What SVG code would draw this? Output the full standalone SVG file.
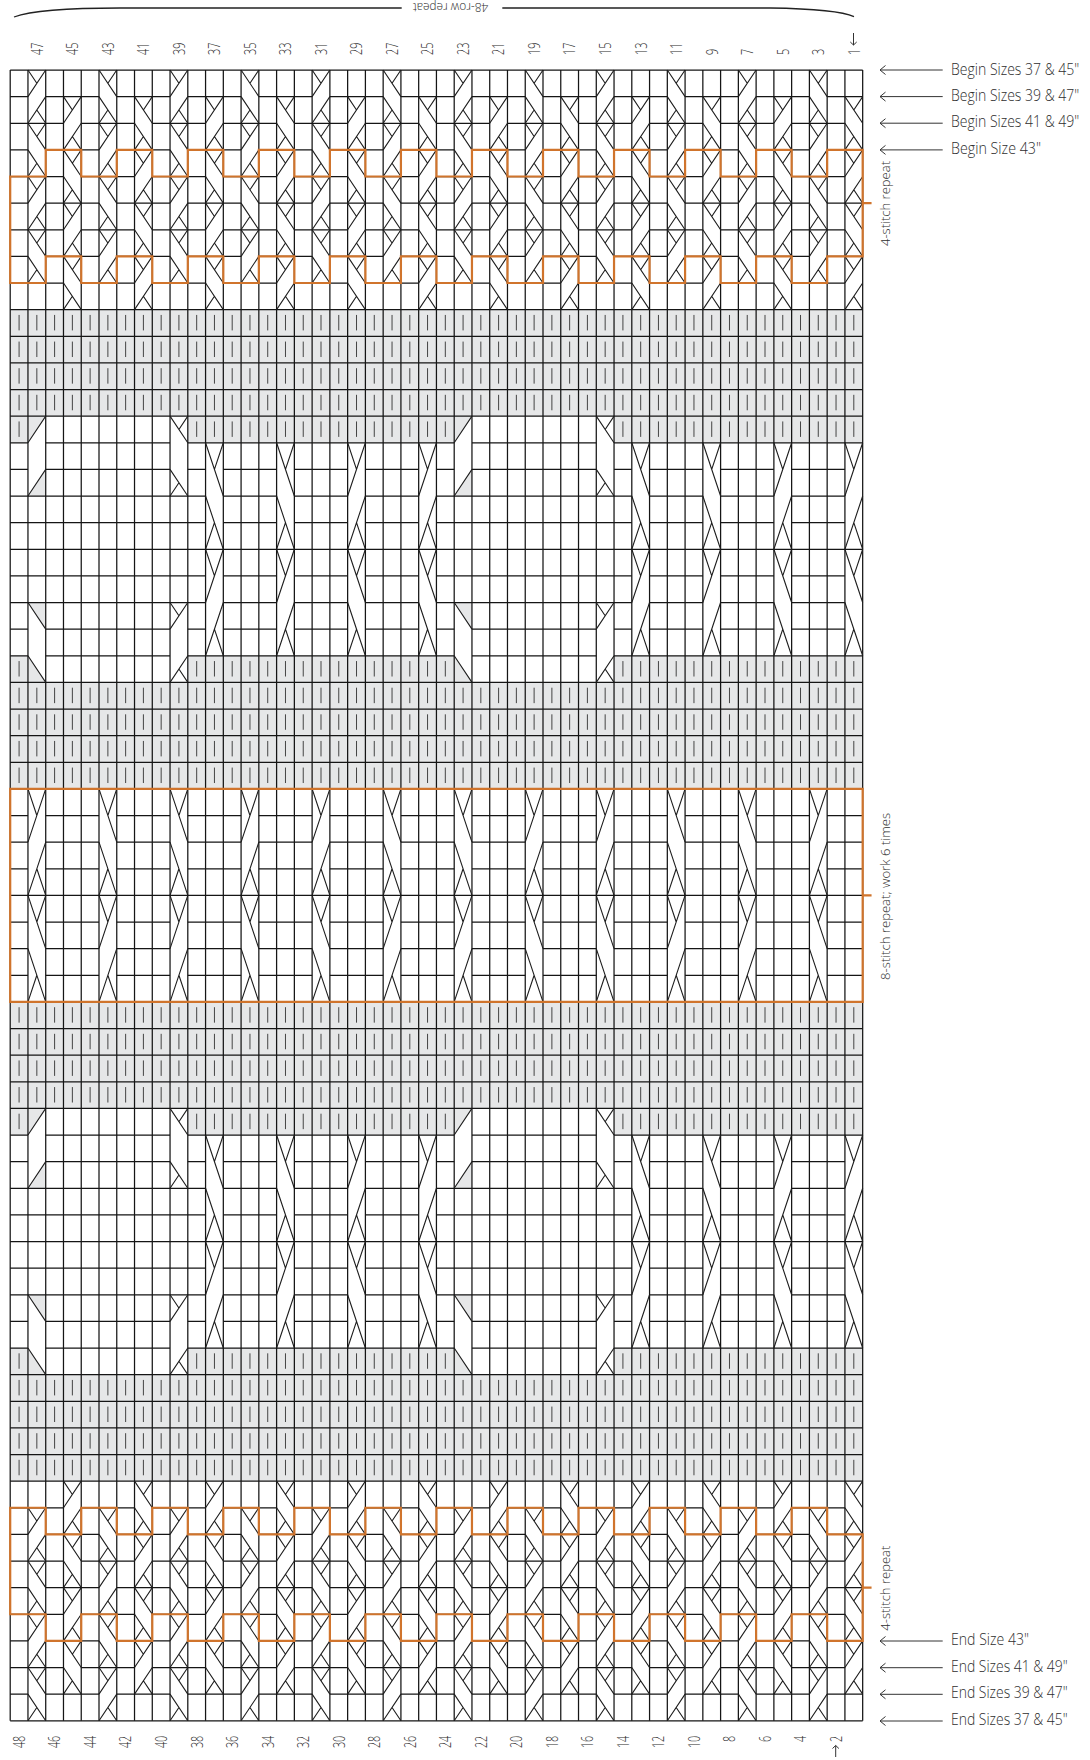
<svg xmlns="http://www.w3.org/2000/svg" width="1090" height="1760" viewBox="0 0 1090 1760">
<style>
path{vector-effect:non-scaling-stroke}
.ln{fill:none;stroke:#151515;stroke-width:1.25}
.cb{fill:none;stroke:#1d1d1d;stroke-width:1.1}
.br{fill:none;stroke:#444;stroke-width:1}
.gy{fill:#e6e7e8;stroke:none}
.or{fill:none;stroke:#d0742c;stroke-width:2.2}
.t{font-family:"Open Sans","Liberation Sans",sans-serif;font-weight:300;fill:#2e2e2e}
.n{font-size:16px}
.l{font-size:16.5px}
.v{font-size:13.5px}
.ar{stroke:#333;stroke-width:1;fill:none}
</style>
<defs>
<marker id="ah" markerUnits="userSpaceOnUse" markerWidth="14" markerHeight="14" refX="8" refY="7" orient="auto"><path d="M2.5 2.5L8 7L2.5 11.5" fill="none" stroke="#333" stroke-width="1"/></marker>
<marker id="as" markerUnits="userSpaceOnUse" markerWidth="10" markerHeight="10" refX="6" refY="5" orient="auto"><path d="M3 1.8L6 5L3 8.2" fill="none" stroke="#333" stroke-width="1"/></marker>
<path id="hf" class="ln" d="M0 0H48"/>
<path id="h1" class="ln" d="M0 0H1M2 0H5M6 0H9M10 0H13M14 0H17M18 0H21M22 0H25M26 0H29M30 0H33M34 0H37M38 0H41M42 0H45M46 0H48"/>
<path id="h3" class="ln" d="M0 0H3M4 0H7M8 0H11M12 0H15M16 0H19M20 0H23M24 0H27M28 0H31M32 0H35M36 0H39M40 0H43M44 0H47"/>
<path id="hX" class="ln" d="M0 0H11M12 0H15M16 0H19M20 0H23M24 0H35M36 0H39M40 0H43M44 0H47"/>
<path id="hW" class="ln" d="M0 0H1M2 0H9M10 0H25M26 0H33M34 0H48"/>
<path id="hWX" class="ln" d="M0 0H1M2 0H9M10 0H11M12 0H15M16 0H19M20 0H23M24 0H25M26 0H33M34 0H35M36 0H39M40 0H43M44 0H47"/>
<path id="bars" class="br" d="M.5 .2V.78M1.5 .2V.78M2.5 .2V.78M3.5 .2V.78M4.5 .2V.78M5.5 .2V.78M6.5 .2V.78M7.5 .2V.78M8.5 .2V.78M9.5 .2V.78M10.5 .2V.78M11.5 .2V.78M12.5 .2V.78M13.5 .2V.78M14.5 .2V.78M15.5 .2V.78M16.5 .2V.78M17.5 .2V.78M18.5 .2V.78M19.5 .2V.78M20.5 .2V.78M21.5 .2V.78M22.5 .2V.78M23.5 .2V.78M24.5 .2V.78M25.5 .2V.78M26.5 .2V.78M27.5 .2V.78M28.5 .2V.78M29.5 .2V.78M30.5 .2V.78M31.5 .2V.78M32.5 .2V.78M33.5 .2V.78M34.5 .2V.78M35.5 .2V.78M36.5 .2V.78M37.5 .2V.78M38.5 .2V.78M39.5 .2V.78M40.5 .2V.78M41.5 .2V.78M42.5 .2V.78M43.5 .2V.78M44.5 .2V.78M45.5 .2V.78M46.5 .2V.78M47.5 .2V.78"/>
<path id="barsP" class="br" d="M.5 .2V.78M10.5 .2V.78M11.5 .2V.78M12.5 .2V.78M13.5 .2V.78M14.5 .2V.78M15.5 .2V.78M16.5 .2V.78M17.5 .2V.78M18.5 .2V.78M19.5 .2V.78M20.5 .2V.78M21.5 .2V.78M22.5 .2V.78M23.5 .2V.78M24.5 .2V.78M34.5 .2V.78M35.5 .2V.78M36.5 .2V.78M37.5 .2V.78M38.5 .2V.78M39.5 .2V.78M40.5 .2V.78M41.5 .2V.78M42.5 .2V.78M43.5 .2V.78M44.5 .2V.78M45.5 .2V.78M46.5 .2V.78M47.5 .2V.78"/>
<path id="seqA" class="cb" d="M1 0L0 1M0 0L.5 .5M1 1L0 2M.5 1.5L1 2M0 2L1 3M1 2L.5 2.5M0 3L1 4M.5 3.5L0 4M1 4L0 5M0 4L.5 4.5M1 5L0 6M.5 5.5L1 6M0 6L1 7M1 6L.5 6.5M0 7L1 8M.5 7.5L0 8"/>
<path id="seqC" class="cb" d="M0 0L1 1M1 0L.5 .5M0 1L1 2M.5 1.5L0 2M1 2L0 3M0 2L.5 2.5M1 3L0 4M.5 3.5L1 4M0 4L1 5M1 4L.5 4.5M0 5L1 6M.5 5.5L0 6M1 6L0 7M0 6L.5 6.5M1 7L0 8M.5 7.5L1 8"/>
<path id="cabA" class="cb" d="M1 0L0 2M0 0L.5 1M1 2L0 4M.5 3L1 4M0 4L1 6M1 4L.5 5M0 6L1 8M.5 7L0 8"/>
<path id="cabC" class="cb" d="M0 0L1 2M1 0L.5 1M0 2L1 4M.5 3L0 4M1 4L0 6M0 4L.5 5M1 6L0 8M.5 7L1 8"/>
<g id="c1"><use href="#seqA" x="1"/><use href="#seqA" x="9"/><use href="#seqA" x="17"/><use href="#seqA" x="25"/><use href="#seqA" x="33"/><use href="#seqA" x="41"/></g>
<g id="c3"><use href="#seqA" x="3"/><use href="#seqA" x="11"/><use href="#seqA" x="19"/><use href="#seqA" x="27"/><use href="#seqA" x="35"/><use href="#seqA" x="43"/></g>
<g id="c5"><use href="#seqC" x="5"/><use href="#seqC" x="13"/><use href="#seqC" x="21"/><use href="#seqC" x="29"/><use href="#seqC" x="37"/><use href="#seqC" x="45"/></g>
<g id="c7"><use href="#seqC" x="7"/><use href="#seqC" x="15"/><use href="#seqC" x="23"/><use href="#seqC" x="31"/><use href="#seqC" x="39"/><use href="#seqC" x="47"/></g>
<g id="secG" class="gy">
<rect x="0" y="13" width="1" height="1"/><rect x="10" y="13" width="15" height="1"/><rect x="34" y="13" width="14" height="1"/>
<rect x="0" y="22" width="1" height="1"/><rect x="10" y="22" width="15" height="1"/><rect x="34" y="22" width="14" height="1"/>
<path d="M2 13L1 14V13ZM2 15V16H1ZM1 20H2V21ZM1 22L2 23H1ZM26 13L25 14V13ZM26 15V16H25ZM25 20H26V21ZM25 22L26 23H25Z"/>
</g>
<g id="secL">
<path class="cb" d="M2 13L1 14M2 15L1 16M1 20L2 21M1 22L2 23M26 13L25 14M26 15L25 16M25 20L26 21M25 22L26 23"/>
<path class="cb" id="cross" d="M9 13L10 14M10 13L9.5 13.5M9 15L10 16M9.5 15.5L9 16M10 20L9 21M9 20L9.5 20.5M10 22L9 23M9.5 22.5L10 23"/>
<use href="#cross" x="24"/>
<use href="#cabC" x="11" y="14"/><use href="#cabC" x="15" y="14"/><use href="#cabA" x="19" y="14"/><use href="#cabA" x="23" y="14"/>
<use href="#cabC" x="35" y="14"/><use href="#cabC" x="39" y="14"/><use href="#cabA" x="43" y="14"/><use href="#cabA" x="47" y="14"/>
</g>
</defs>
<g id="chart" transform="translate(10.2 70) scale(17.76 26.625)">
<g id="shading" class="gy">
<rect x="0" y="9" width="48" height="4"/><rect x="0" y="23" width="48" height="4"/><rect x="0" y="35" width="48" height="4"/><rect x="0" y="49" width="48" height="4"/>
<use href="#secG"/><use href="#secG" y="26"/>
</g>
<g id="purl-bars">
<use href="#bars" y="9"/><use href="#bars" y="10"/><use href="#bars" y="11"/><use href="#bars" y="12"/><use href="#barsP" y="13"/>
<use href="#barsP" y="22"/><use href="#bars" y="23"/><use href="#bars" y="24"/><use href="#bars" y="25"/><use href="#bars" y="26"/>
<use href="#bars" y="35"/><use href="#bars" y="36"/><use href="#bars" y="37"/><use href="#bars" y="38"/><use href="#barsP" y="39"/>
<use href="#barsP" y="48"/><use href="#bars" y="49"/><use href="#bars" y="50"/><use href="#bars" y="51"/><use href="#bars" y="52"/>
</g>
<g id="grid">
<path class="ln" d="M0 0V62M1 0V62M2 0V62M3 0V62M4 0V62M5 0V62M6 0V62M7 0V62M8 0V62M9 0V62M10 0V62M11 0V62M12 0V62M13 0V62M14 0V62M15 0V62M16 0V62M17 0V62M18 0V62M19 0V62M20 0V62M21 0V62M22 0V62M23 0V62M24 0V62M25 0V62M26 0V62M27 0V62M28 0V62M29 0V62M30 0V62M31 0V62M32 0V62M33 0V62M34 0V62M35 0V62M36 0V62M37 0V62M38 0V62M39 0V62M40 0V62M41 0V62M42 0V62M43 0V62M44 0V62M45 0V62M46 0V62M47 0V62M48 0V62"/>
<use href="#hf" y="0"/><use href="#h1" y="1"/><use href="#h3" y="2"/><use href="#h1" y="3"/><use href="#h3" y="4"/><use href="#h1" y="5"/><use href="#h3" y="6"/><use href="#h1" y="7"/><use href="#h3" y="8"/>
<use href="#hf" y="9"/><use href="#hf" y="10"/><use href="#hf" y="11"/><use href="#hf" y="12"/><use href="#hf" y="13"/>
<use href="#hW" y="14"/><use href="#hWX" y="15"/><use href="#hX" y="16"/><use href="#hX" y="17"/><use href="#hf" y="18"/><use href="#hX" y="19"/><use href="#hX" y="20"/><use href="#hWX" y="21"/><use href="#hW" y="22"/>
<use href="#hf" y="23"/><use href="#hf" y="24"/><use href="#hf" y="25"/><use href="#hf" y="26"/><use href="#hf" y="27"/>
<use href="#h1" y="28"/><use href="#h1" y="29"/><use href="#h1" y="30"/><use href="#hf" y="31"/><use href="#h1" y="32"/><use href="#h1" y="33"/><use href="#h1" y="34"/>
<use href="#hf" y="35"/><use href="#hf" y="36"/><use href="#hf" y="37"/><use href="#hf" y="38"/><use href="#hf" y="39"/>
<use href="#hW" y="40"/><use href="#hWX" y="41"/><use href="#hX" y="42"/><use href="#hX" y="43"/><use href="#hf" y="44"/><use href="#hX" y="45"/><use href="#hX" y="46"/><use href="#hWX" y="47"/><use href="#hW" y="48"/>
<use href="#hf" y="49"/><use href="#hf" y="50"/><use href="#hf" y="51"/><use href="#hf" y="52"/><use href="#hf" y="53"/>
<use href="#h3" y="54"/><use href="#h1" y="55"/><use href="#h3" y="56"/><use href="#h1" y="57"/><use href="#h3" y="58"/><use href="#h1" y="59"/><use href="#h3" y="60"/><use href="#h1" y="61"/><use href="#hf" y="62"/>
</g>
<g id="cables">
<use href="#c1" y="0"/><use href="#c3" y="1"/><use href="#c5" y="0"/><use href="#c7" y="1"/>
<use href="#secL"/><use href="#secL" y="26"/>
<use href="#cabA" x="1" y="27"/><use href="#cabC" x="5" y="27"/><use href="#cabC" x="9" y="27"/><use href="#cabA" x="13" y="27"/><use href="#cabA" x="17" y="27"/><use href="#cabC" x="21" y="27"/><use href="#cabC" x="25" y="27"/><use href="#cabA" x="29" y="27"/><use href="#cabA" x="33" y="27"/><use href="#cabC" x="37" y="27"/><use href="#cabC" x="41" y="27"/><use href="#cabA" x="45" y="27"/>
<use href="#c1" y="54"/><use href="#c3" y="53"/><use href="#c5" y="54"/><use href="#c7" y="53"/>
</g>
<g id="repeat-outlines">
<path class="or" d="M0 4H2V3H4V4H6V3H8V4H10V3H12V4H14V3H16V4H18V3H20V4H22V3H24V4H26V3H28V4H30V3H32V4H34V3H36V4H38V3H40V4H42V3H44V4H46V3H48V7H46V8H44V7H42V8H40V7H38V8H36V7H34V8H32V7H30V8H28V7H26V8H24V7H22V8H20V7H18V8H16V7H14V8H12V7H10V8H8V7H6V8H4V7H2V8H0ZM48 5H48.5"/>
<path class="or" d="M0 27H48V35H0ZM48 31H48.5"/>
<path class="or" d="M0 54H2V55H4V54H6V55H8V54H10V55H12V54H14V55H16V54H18V55H20V54H22V55H24V54H26V55H28V54H30V55H32V54H34V55H36V54H38V55H40V54H42V55H44V54H46V55H48V59H46V58H44V59H42V58H40V59H38V58H36V59H34V58H32V59H30V58H28V59H26V58H24V59H22V58H20V59H18V58H16V59H14V58H12V59H10V58H8V59H6V58H4V59H2V58H0ZM48 57H48.5"/>
</g>
</g>
<g id="connectors">
<line class="ar" x1="942.7" y1="70" x2="880" y2="70" marker-end="url(#ah)"/>
<line class="ar" x1="942.7" y1="96.6" x2="880" y2="96.6" marker-end="url(#ah)"/>
<line class="ar" x1="942.7" y1="123.2" x2="880" y2="123.2" marker-end="url(#ah)"/>
<line class="ar" x1="942.7" y1="149.9" x2="880" y2="149.9" marker-end="url(#ah)"/>
<line class="ar" x1="942.7" y1="1641" x2="880" y2="1641" marker-end="url(#ah)"/>
<line class="ar" x1="942.7" y1="1667.7" x2="880" y2="1667.7" marker-end="url(#ah)"/>
<line class="ar" x1="942.7" y1="1694.3" x2="880" y2="1694.3" marker-end="url(#ah)"/>
<line class="ar" x1="942.7" y1="1721" x2="880" y2="1721" marker-end="url(#ah)"/>
<line class="ar" x1="853.5" y1="33" x2="853.5" y2="45" marker-end="url(#as)"/>
<line class="ar" x1="835.7" y1="1757" x2="835.7" y2="1745.5" marker-end="url(#as)"/>
<path id="brace-left" d="M14 17C30 11 60 8 120 8H401.7" fill="none" stroke="#222" stroke-width="1.3"/>
<path id="brace-right" d="M502.3 8H770C805 8.5 840 10 854 16.7" fill="none" stroke="#222" stroke-width="1.3"/>
</g>
<g id="labels-right" class="t l">
<text transform="translate(951 74.5) scale(.78 1)" textLength="164.5" lengthAdjust="spacingAndGlyphs">Begin Sizes 37 &amp; 45"</text>
<text transform="translate(951 100.5) scale(.78 1)" textLength="164.5" lengthAdjust="spacingAndGlyphs">Begin Sizes 39 &amp; 47"</text>
<text transform="translate(951 127) scale(.78 1)" textLength="164.5" lengthAdjust="spacingAndGlyphs">Begin Sizes 41 &amp; 49"</text>
<text transform="translate(951 153.5) scale(.78 1)" textLength="115.4" lengthAdjust="spacingAndGlyphs">Begin Size 43"</text>
<text transform="translate(951 1645) scale(.78 1)" textLength="100" lengthAdjust="spacingAndGlyphs">End Size 43"</text>
<text transform="translate(951 1671.5) scale(.78 1)" textLength="149.6" lengthAdjust="spacingAndGlyphs">End Sizes 41 &amp; 49"</text>
<text transform="translate(951 1698) scale(.78 1)" textLength="149.6" lengthAdjust="spacingAndGlyphs">End Sizes 39 &amp; 47"</text>
<text transform="translate(951 1725) scale(.78 1)" textLength="149.6" lengthAdjust="spacingAndGlyphs">End Sizes 37 &amp; 45"</text>
</g>
<g id="labels-repeat" class="t v">
<text transform="translate(890 246) rotate(-90)" textLength="85" lengthAdjust="spacingAndGlyphs">4-stitch repeat</text>
<text transform="translate(890 980) rotate(-90)" textLength="167" lengthAdjust="spacingAndGlyphs">8-stitch repeat; work 6 times</text>
<text transform="translate(890 1630.7) rotate(-90)" textLength="85" lengthAdjust="spacingAndGlyphs">4-stitch repeat</text>
<text transform="translate(488.3 3.3) rotate(180)" textLength="75.6" lengthAdjust="spacingAndGlyphs">48-row repeat</text>
</g>
<g id="numbers-top" class="t n">
<text transform="translate(42.66 55) rotate(-90)" textLength="12.4" lengthAdjust="spacingAndGlyphs">47</text>
<text transform="translate(78.18 55) rotate(-90)" textLength="12.4" lengthAdjust="spacingAndGlyphs">45</text>
<text transform="translate(113.7 55) rotate(-90)" textLength="12.4" lengthAdjust="spacingAndGlyphs">43</text>
<text transform="translate(149.22 55) rotate(-90)" textLength="12.4" lengthAdjust="spacingAndGlyphs">41</text>
<text transform="translate(184.74 55) rotate(-90)" textLength="12.4" lengthAdjust="spacingAndGlyphs">39</text>
<text transform="translate(220.26 55) rotate(-90)" textLength="12.4" lengthAdjust="spacingAndGlyphs">37</text>
<text transform="translate(255.78 55) rotate(-90)" textLength="12.4" lengthAdjust="spacingAndGlyphs">35</text>
<text transform="translate(291.3 55) rotate(-90)" textLength="12.4" lengthAdjust="spacingAndGlyphs">33</text>
<text transform="translate(326.82 55) rotate(-90)" textLength="12.4" lengthAdjust="spacingAndGlyphs">31</text>
<text transform="translate(362.34 55) rotate(-90)" textLength="12.4" lengthAdjust="spacingAndGlyphs">29</text>
<text transform="translate(397.86 55) rotate(-90)" textLength="12.4" lengthAdjust="spacingAndGlyphs">27</text>
<text transform="translate(433.38 55) rotate(-90)" textLength="12.4" lengthAdjust="spacingAndGlyphs">25</text>
<text transform="translate(468.9 55) rotate(-90)" textLength="12.4" lengthAdjust="spacingAndGlyphs">23</text>
<text transform="translate(504.42 55) rotate(-90)" textLength="12.4" lengthAdjust="spacingAndGlyphs">21</text>
<text transform="translate(539.94 55) rotate(-90)" textLength="12.4" lengthAdjust="spacingAndGlyphs">19</text>
<text transform="translate(575.46 55) rotate(-90)" textLength="12.4" lengthAdjust="spacingAndGlyphs">17</text>
<text transform="translate(610.98 55) rotate(-90)" textLength="12.4" lengthAdjust="spacingAndGlyphs">15</text>
<text transform="translate(646.5 55) rotate(-90)" textLength="12.4" lengthAdjust="spacingAndGlyphs">13</text>
<text transform="translate(682.02 55) rotate(-90)" textLength="12.4" lengthAdjust="spacingAndGlyphs">11</text>
<text transform="translate(717.54 55) rotate(-90)" textLength="6.2" lengthAdjust="spacingAndGlyphs">9</text>
<text transform="translate(753.06 55) rotate(-90)" textLength="6.2" lengthAdjust="spacingAndGlyphs">7</text>
<text transform="translate(788.58 55) rotate(-90)" textLength="6.2" lengthAdjust="spacingAndGlyphs">5</text>
<text transform="translate(824.1 55) rotate(-90)" textLength="6.2" lengthAdjust="spacingAndGlyphs">3</text>
<text transform="translate(859.62 55) rotate(-90)" textLength="6.2" lengthAdjust="spacingAndGlyphs">1</text>
</g>
<g id="numbers-bottom" class="t n" text-anchor="end">
<text transform="translate(24.9 1735.7) rotate(-90)" textLength="12.4" lengthAdjust="spacingAndGlyphs">48</text>
<text transform="translate(60.42 1735.7) rotate(-90)" textLength="12.4" lengthAdjust="spacingAndGlyphs">46</text>
<text transform="translate(95.94 1735.7) rotate(-90)" textLength="12.4" lengthAdjust="spacingAndGlyphs">44</text>
<text transform="translate(131.46 1735.7) rotate(-90)" textLength="12.4" lengthAdjust="spacingAndGlyphs">42</text>
<text transform="translate(166.98 1735.7) rotate(-90)" textLength="12.4" lengthAdjust="spacingAndGlyphs">40</text>
<text transform="translate(202.5 1735.7) rotate(-90)" textLength="12.4" lengthAdjust="spacingAndGlyphs">38</text>
<text transform="translate(238.02 1735.7) rotate(-90)" textLength="12.4" lengthAdjust="spacingAndGlyphs">36</text>
<text transform="translate(273.54 1735.7) rotate(-90)" textLength="12.4" lengthAdjust="spacingAndGlyphs">34</text>
<text transform="translate(309.06 1735.7) rotate(-90)" textLength="12.4" lengthAdjust="spacingAndGlyphs">32</text>
<text transform="translate(344.58 1735.7) rotate(-90)" textLength="12.4" lengthAdjust="spacingAndGlyphs">30</text>
<text transform="translate(380.1 1735.7) rotate(-90)" textLength="12.4" lengthAdjust="spacingAndGlyphs">28</text>
<text transform="translate(415.62 1735.7) rotate(-90)" textLength="12.4" lengthAdjust="spacingAndGlyphs">26</text>
<text transform="translate(451.14 1735.7) rotate(-90)" textLength="12.4" lengthAdjust="spacingAndGlyphs">24</text>
<text transform="translate(486.66 1735.7) rotate(-90)" textLength="12.4" lengthAdjust="spacingAndGlyphs">22</text>
<text transform="translate(522.18 1735.7) rotate(-90)" textLength="12.4" lengthAdjust="spacingAndGlyphs">20</text>
<text transform="translate(557.7 1735.7) rotate(-90)" textLength="12.4" lengthAdjust="spacingAndGlyphs">18</text>
<text transform="translate(593.22 1735.7) rotate(-90)" textLength="12.4" lengthAdjust="spacingAndGlyphs">16</text>
<text transform="translate(628.74 1735.7) rotate(-90)" textLength="12.4" lengthAdjust="spacingAndGlyphs">14</text>
<text transform="translate(664.26 1735.7) rotate(-90)" textLength="12.4" lengthAdjust="spacingAndGlyphs">12</text>
<text transform="translate(699.78 1735.7) rotate(-90)" textLength="12.4" lengthAdjust="spacingAndGlyphs">10</text>
<text transform="translate(735.3 1735.7) rotate(-90)" textLength="6.2" lengthAdjust="spacingAndGlyphs">8</text>
<text transform="translate(770.82 1735.7) rotate(-90)" textLength="6.2" lengthAdjust="spacingAndGlyphs">6</text>
<text transform="translate(806.34 1735.7) rotate(-90)" textLength="6.2" lengthAdjust="spacingAndGlyphs">4</text>
<text transform="translate(841.86 1735.7) rotate(-90)" textLength="6.2" lengthAdjust="spacingAndGlyphs">2</text>
</g>
</svg>
